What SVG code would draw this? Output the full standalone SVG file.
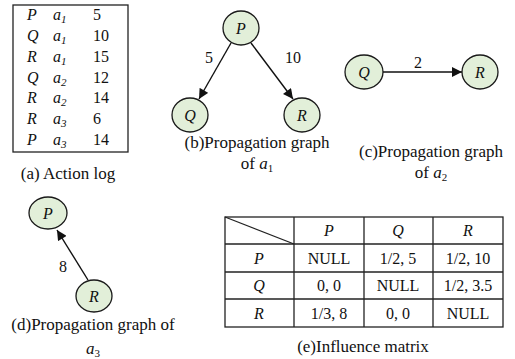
<svg xmlns="http://www.w3.org/2000/svg" width="515" height="359" viewBox="0 0 515 359">
<style>
text{font-family:"Liberation Serif","Times New Roman",serif;font-size:16px;fill:#111}
.i{font-style:italic}
.m{text-anchor:middle}
.cap{font-size:17px}
.node{fill:#e2efd9;stroke:#1a1a1a;stroke-width:1.3}
.edge{stroke:#111;stroke-width:1.4;fill:none}
.grid{stroke:#222;stroke-width:1.3;fill:none}
</style>
<defs>
<marker id="arr" viewBox="0 0 10 10" refX="10" refY="5" markerWidth="11" markerHeight="10" markerUnits="userSpaceOnUse" orient="auto">
<path d="M0,0 L10,5 L0,10 z" fill="#111"/>
</marker>
</defs>
<g id="action-log">
<rect x="13" y="5" width="115" height="147" class="grid"/>
<g>
<text x="27" y="20" class="i">P</text><text x="53" y="20" class="i">a<tspan font-size="11" dy="3">1</tspan></text><text x="93" y="20">5</text>
<text x="27" y="41" class="i">Q</text><text x="53" y="41" class="i">a<tspan font-size="11" dy="3">1</tspan></text><text x="93" y="41">10</text>
<text x="27" y="62" class="i">R</text><text x="53" y="62" class="i">a<tspan font-size="11" dy="3">1</tspan></text><text x="93" y="62">15</text>
<text x="27" y="83" class="i">Q</text><text x="53" y="83" class="i">a<tspan font-size="11" dy="3">2</tspan></text><text x="93" y="83">12</text>
<text x="27" y="103" class="i">R</text><text x="53" y="103" class="i">a<tspan font-size="11" dy="3">2</tspan></text><text x="93" y="103">14</text>
<text x="27" y="124" class="i">R</text><text x="53" y="124" class="i">a<tspan font-size="11" dy="3">3</tspan></text><text x="93" y="124">6</text>
<text x="27" y="145" class="i">P</text><text x="53" y="145" class="i">a<tspan font-size="11" dy="3">3</tspan></text><text x="93" y="145">14</text>
</g>
<text x="68" y="179" class="m cap">(a) Action log</text>
</g>
<g id="connectors">
<line x1="231" y1="43" x2="199" y2="99" class="edge" marker-end="url(#arr)"/>
<line x1="251" y1="43" x2="293" y2="99" class="edge" marker-end="url(#arr)"/>
<line x1="383" y1="72" x2="462" y2="72" class="edge" marker-end="url(#arr)"/>
<line x1="88" y1="280" x2="57" y2="230" class="edge" marker-end="url(#arr)"/>
</g>
<g id="b-P"><ellipse cx="241" cy="28" rx="18" ry="17" class="node"/><text x="241" y="34" class="i m">P</text></g>
<g id="b-Q"><ellipse cx="190" cy="115" rx="18" ry="17" class="node"/><text x="190" y="121" class="i m">Q</text></g>
<g id="b-R"><ellipse cx="302" cy="115" rx="18" ry="17" class="node"/><text x="302" y="121" class="i m">R</text></g>
<text x="209" y="63" class="m">5</text>
<text x="293" y="63" class="m">10</text>
<text x="257" y="148" class="m cap">(b)Propagation graph</text>
<text x="257" y="169" class="m cap">of <tspan class="i">a</tspan><tspan font-size="11" dy="3">1</tspan></text>
<g id="c-Q"><ellipse cx="364" cy="72" rx="19" ry="17" class="node"/><text x="364" y="78" class="i m">Q</text></g>
<g id="c-R"><ellipse cx="480" cy="72" rx="18" ry="17" class="node"/><text x="480" y="78" class="i m">R</text></g>
<text x="418" y="68" class="m">2</text>
<text x="431" y="157" class="m cap">(c)Propagation graph</text>
<text x="431" y="178" class="m cap">of <tspan class="i">a</tspan><tspan font-size="11" dy="3">2</tspan></text>
<g id="d-P"><ellipse cx="48" cy="213" rx="19" ry="16" class="node"/><text x="48" y="219" class="i m">P</text></g>
<g id="d-R"><ellipse cx="94" cy="296" rx="18" ry="16" class="node"/><text x="94" y="302" class="i m">R</text></g>
<text x="63" y="272" class="m">8</text>
<text x="93" y="330" class="m cap">(d)Propagation graph of</text>
<text x="93" y="354" class="m cap"><tspan class="i">a</tspan><tspan font-size="11" dy="3">3</tspan></text>
<g id="matrix">
<rect x="225" y="217" width="278" height="110" class="grid"/>
<line x1="294" y1="217" x2="294" y2="327" class="grid"/>
<line x1="364" y1="217" x2="364" y2="327" class="grid"/>
<line x1="433" y1="217" x2="433" y2="327" class="grid"/>
<line x1="225" y1="244" x2="503" y2="244" class="grid"/>
<line x1="225" y1="272" x2="503" y2="272" class="grid"/>
<line x1="225" y1="299" x2="503" y2="299" class="grid"/>
<line x1="225" y1="217" x2="294" y2="244" class="grid"/>
<text x="329" y="236" class="i m">P</text><text x="398" y="236" class="i m">Q</text><text x="468" y="236" class="i m">R</text>
<text x="259" y="264" class="i m">P</text><text x="329" y="264" class="m">NULL</text><text x="398" y="264" class="m">1/2, 5</text><text x="468" y="264" class="m">1/2, 10</text>
<text x="259" y="291" class="i m">Q</text><text x="329" y="291" class="m">0, 0</text><text x="398" y="291" class="m">NULL</text><text x="468" y="291" class="m">1/2, 3.5</text>
<text x="259" y="319" class="i m">R</text><text x="329" y="319" class="m">1/3, 8</text><text x="398" y="319" class="m">0, 0</text><text x="468" y="319" class="m">NULL</text>
<text x="363" y="352" class="m cap">(e)Influence matrix</text>
</g>
</svg>
